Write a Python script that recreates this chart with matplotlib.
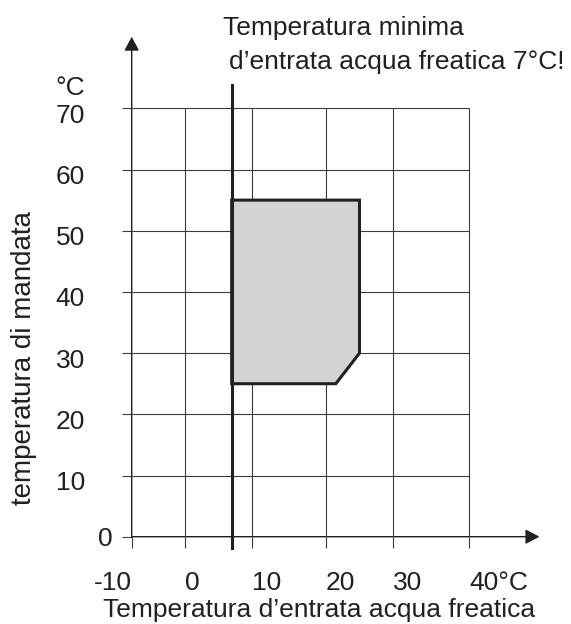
import numpy as np
import matplotlib
matplotlib.use("Agg")
import matplotlib.pyplot as plt
from matplotlib.transforms import ScaledTranslation

plt.rcParams['font.family'] = ['Liberation Sans', 'DejaVu Sans']

# --- dati del diagramma ---
x_ticks = [-10, 0, 10, 20, 30, 40]
x_labels = ['-10', '0', '10', '20', '30', '40°C']
y_ticks = [0, 10, 20, 30, 40, 50, 60, 70]
y_labels = ['0', '10', '20', '30', '40', '50', '60', '70']

min_temp = 7  # temperatura minima acqua freatica
# campo di lavoro (acqua freatica, mandata)
field_x = [7, 7, 25, 25, 21.5]
field_y = [25, 55, 55, 30, 25]

# il disegno originale ha la griglia x non regolare
X_TICK_PX = np.array([131.7, 185.0, 251.7, 325.7, 393.3, 469.0])
XT = np.array(x_ticks, dtype=float)
lo_k = (X_TICK_PX[1] - X_TICK_PX[0]) / (XT[1] - XT[0])
hi_k = (X_TICK_PX[-1] - X_TICK_PX[-2]) / (XT[-1] - XT[-2])


def fwd(v):
    v = np.asarray(v, dtype=float)
    out = np.interp(v, XT, X_TICK_PX)
    out = np.where(v < XT[0], X_TICK_PX[0] + (v - XT[0]) * lo_k, out)
    out = np.where(v > XT[-1], X_TICK_PX[-1] + (v - XT[-1]) * hi_k, out)
    return out


def inv(p):
    p = np.asarray(p, dtype=float)
    out = np.interp(p, X_TICK_PX, XT)
    out = np.where(p < X_TICK_PX[0], XT[0] + (p - X_TICK_PX[0]) / lo_k, out)
    out = np.where(p > X_TICK_PX[-1], XT[-1] + (p - X_TICK_PX[-1]) / hi_k, out)
    return out


W, H = 571, 624
fig = plt.figure(figsize=(W / 100, H / 100), dpi=100)
ax = fig.add_axes([131.7 / W, (H - 536.7) / H, 413.0 / W, 501.8 / H])
ax.set_xscale('function', functions=(fwd, inv))
ax.set_xlim(-10, 50)
ax.set_ylim(0, 82)
for s in ax.spines.values():
    s.set_visible(False)

ink = '#231f20'
grid_c = '#3a3a3a'
FS = 19

# griglia
ax.vlines(x_ticks[1:], y_ticks[0], y_ticks[-1], colors=grid_c, lw=0.8, zorder=1)
ax.hlines(y_ticks[1:], x_ticks[0], x_ticks[-1], colors=grid_c, lw=0.8, zorder=1)

# assi con frecce
arrow = dict(arrowstyle='-|>,head_length=0.85,head_width=0.45', color=ink,
             lw=1.0, shrinkA=0, shrinkB=0, mutation_scale=10)
ax.annotate('', xy=(-10, 81.7), xytext=(-10, 0), arrowprops=arrow,
            annotation_clip=False, zorder=3)
ax.annotate('', xy=(49.3, 0), xytext=(-10, 0), arrowprops=arrow,
            annotation_clip=False, zorder=3)

# campo di lavoro
ax.fill(field_x, field_y, facecolor='#d1d3d4', edgecolor=ink, lw=2.2,
        joinstyle='miter', zorder=2)
# linea temperatura minima
ax.axvline(min_temp, ymin=-0.0225, ymax=0.90, color=ink, lw=2.2,
           clip_on=False, zorder=4)

# tacche ed etichette
ax.set_xticks(x_ticks, x_labels)
ax.set_yticks(y_ticks, y_labels)
ax.tick_params(axis='x', direction='out', length=7.9, width=0.8, color=grid_c,
               pad=17, labelsize=FS, labelcolor=ink)
ax.tick_params(axis='y', direction='out', length=7.2, width=0.8, color=grid_c,
               pad=26.6, labelsize=FS, labelcolor=ink)

for lab in ax.get_xticklabels():
    lab.set_ha('left')
ax.get_xticklabels()[0].set_ha('right')

for i, lab in enumerate(ax.get_yticklabels()):
    if i == 0:
        off = ScaledTranslation(0.28, 0, fig.dpi_scale_trans)
    else:
        off = ScaledTranslation(0, -0.05, fig.dpi_scale_trans)
    lab.set_transform(lab.get_transform() + off)

ax.annotate('°C', xy=(-10, 70), xytext=(-33.6, 9.6), textcoords='offset points',
            ha='right', va='baseline', fontsize=FS, color=ink)

# testi
fig.text(223 / W, 1 - 35 / H, 'Temperatura minima', fontsize=FS, color=ink,
         ha='left', va='baseline')
fig.text(229 / W, 1 - 69 / H, 'd’entrata acqua freatica 7°C!', fontsize=FS,
         color=ink, ha='left', va='baseline')
fig.text(319.5 / W, 1 - 617 / H, 'Temperatura d’entrata acqua freatica',
         fontsize=FS, color=ink, ha='center', va='baseline')
fig.text(24 / W, 1 - 358 / H, 'temperatura di mandata', fontsize=FS + 1,
         color=ink, ha='center', va='center', rotation=90)

fig.savefig('out.png', dpi=100, facecolor='white')
